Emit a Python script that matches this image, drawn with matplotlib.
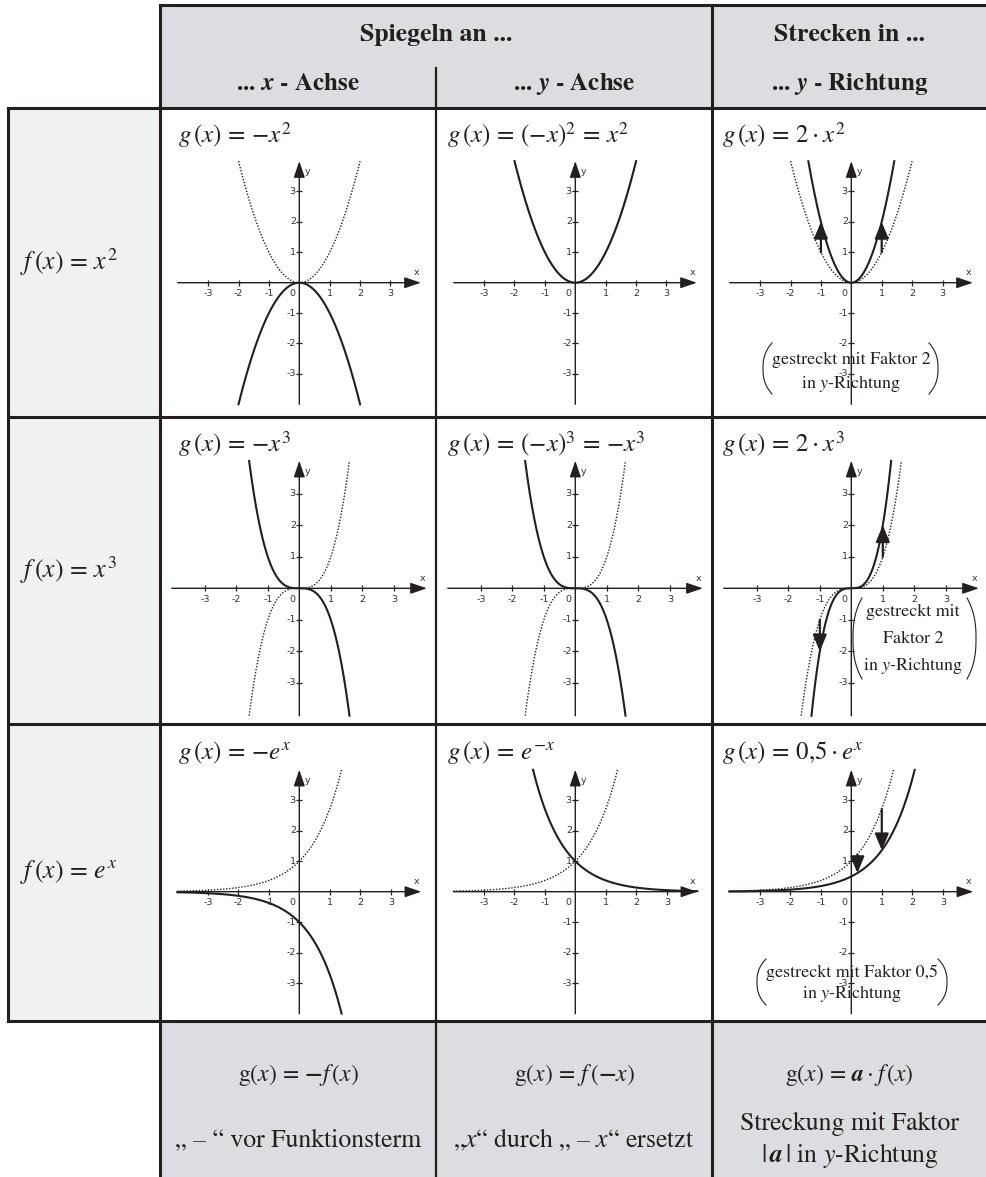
import numpy as np
import matplotlib.pyplot as plt
from matplotlib.patches import FancyArrowPatch, Rectangle

plt.rcParams['mathtext.fontset'] = 'stix'
plt.rcParams['font.family'] = 'STIXGeneral'

W, H = 987, 1177
INK = '#231f20'
HEAD_GRAY = '#dcdde0'
SIDE_GRAY = '#f0f1f3'

# table grid in pixels
col_x = [8, 160, 436, 712, 987]
row_y = [5, 108, 417, 724, 1021, 1177]
header_split_y = 68

# coordinate systems inside the body cells
origin_y = [282.7, 588.3, 891.7]
origin_dx = 139.3
unit = [30.4, 31.5, 30.5]
axis_end = [4.0, 4.05, 4.0]
ticks = [-3, -2, -1, 1, 2, 3]

base_funcs = [lambda x: x ** 2, lambda x: x ** 3, np.exp]
base_labels = [r'$f\,(x) \,=\, x^2$', r'$f\,(x) \,=\, x^3$', r'$f\,(x) \,=\, e^x$']
stretch_factor = [2, 2, 0.5]
stretch_arrow_x = [[-1, 1], [-1, 1], [0.2, 1]]

titles = [
    [r'$g\,(x) \,=\, {-}x^2$', r'$g\,(x) \,=\, ({-}x)^2 \,=\, x^2$', r'$g\,(x) \,=\, 2\cdot x^2$'],
    [r'$g\,(x) \,=\, {-}x^3$', r'$g\,(x) \,=\, ({-}x)^3 \,=\, {-}x^3$', r'$g\,(x) \,=\, 2\cdot x^3$'],
    [r'$g\,(x) \,=\, {-}e^x$', r'$g\,(x) \,=\, e^{-x}$', r'$g\,(x) \,=\, 0{,}5\cdot e^x$'],
]
title_dx = [18, 11, 10]

notes = [
    ['gestreckt mit Faktor 2', r'in $y$-Richtung'],
    ['gestreckt mit', 'Faktor 2', r'in $y$-Richtung'],
    ['gestreckt mit Faktor 0,5', r'in $y$-Richtung'],
]
# center x, first line y, line step, paren left, paren right, paren top, paren bottom
note_box = [
    (851, 360, 23, 763, 938, 343, 394),
    (913, 612, 27, 853, 976, 598, 679),
    (852, 973, 20, 757, 947, 959, 1005),
]

header_top = ['Spiegeln an ...', 'Strecken in ...']
header_sub = [r'... $\mathbfit{x}$ - Achse', r'... $\mathbfit{y}$ - Achse', r'... $\mathbfit{y}$ - Richtung']
rule_formula = [r'$\mathrm{g}(x) \,=\, \mathbf{-}f\,(x)$', r'$\mathrm{g}(x) \,=\, f\,(\mathbf{-}x)$',
                r'$\mathrm{g}(x) \,=\, \mathbfit{a}\cdot f\,(x)$']
rule_text = ['„ – “ vor Funktionsterm', '„$x$“ durch „ – $x$“ ersetzt']

fig = plt.figure(figsize=(W / 100, H / 100), dpi=100)
bg = fig.add_axes([0, 0, 1, 1])
bg.set_xlim(0, W)
bg.set_ylim(H, 0)
bg.axis('off')

# cell fills
bg.add_patch(Rectangle((col_x[1], row_y[0]), W - col_x[1], row_y[1] - row_y[0], color=HEAD_GRAY, lw=0))
bg.add_patch(Rectangle((col_x[0], row_y[1]), col_x[1] - col_x[0], row_y[4] - row_y[1], color=SIDE_GRAY, lw=0))
bg.add_patch(Rectangle((col_x[1], row_y[4]), W - col_x[1], H - row_y[4], color=HEAD_GRAY, lw=0))

# grid lines
lw_grid = 2.2
bg.plot([col_x[1], W], [row_y[0]] * 2, color=INK, lw=lw_grid, solid_capstyle='projecting')
for y in row_y[1:5]:
    bg.plot([col_x[0], W], [y, y], color=INK, lw=lw_grid, solid_capstyle='projecting')
bg.plot([col_x[0]] * 2, [row_y[1], row_y[4]], color=INK, lw=lw_grid, solid_capstyle='projecting')
bg.plot([col_x[1]] * 2, [row_y[0], H], color=INK, lw=lw_grid, solid_capstyle='projecting')
bg.plot([col_x[3]] * 2, [row_y[0], H], color=INK, lw=lw_grid, solid_capstyle='projecting')
bg.plot([col_x[2]] * 2, [header_split_y, H], color=INK, lw=1.6)

# header
bg.text((col_x[1] + col_x[3]) / 2, 35, header_top[0], ha='center', va='center', fontsize=18.5, fontweight='bold', color=INK)
bg.text((col_x[3] + W) / 2, 35, header_top[1], ha='center', va='center', fontsize=18.5, fontweight='bold', color=INK)
for c in range(3):
    bg.text((col_x[c + 1] + col_x[c + 2]) / 2, 84, header_sub[c], ha='center', va='center',
            fontsize=18, fontweight='bold', color=INK)

# left column labels
for r in range(3):
    bg.text(20, (row_y[r + 1] + row_y[r + 2]) / 2, base_labels[r], ha='left', va='center',
            fontsize=18.5, color=INK)

# bottom row
for c in range(3):
    cx = (col_x[c + 1] + col_x[c + 2]) / 2
    bg.text(cx, 1075, rule_formula[c], ha='center', va='center', fontsize=17, color=INK)
for c in range(2):
    cx = (col_x[c + 1] + col_x[c + 2]) / 2
    bg.text(cx, 1140, rule_text[c], ha='center', va='center', fontsize=18.5, color=INK)
bg.text(849.5, 1124, 'Streckung mit Faktor', ha='center', va='center', fontsize=18.5, color=INK)
bg.text(849.5, 1156, r'|$\,\mathbfit{a}\,$| in $y$-Richtung', ha='center', va='center',
        fontsize=18.5, color=INK)


def clipped(ax, fn, R, **kw):
    x = np.linspace(-R, R, 4000)
    y = fn(x)
    y = np.where(np.abs(y) <= R, y, np.nan)
    ax.plot(x, y, **kw)


L = 4.6
tick_font = dict(fontsize=6.8, family='DejaVu Sans', color='#333333')
for r in range(3):
    f = base_funcs[r]
    k = stretch_factor[r]
    u = unit[r]
    R = axis_end[r]
    oy = origin_y[r]
    partners = [lambda x, f=f: -f(x), lambda x, f=f: f(-x), lambda x, f=f, k=k: k * f(x)]
    for c in range(3):
        ox = col_x[c + 1] + origin_dx
        ax = fig.add_axes([(ox - L * u) / W, 1 - (oy + L * u) / H, 2 * L * u / W, 2 * L * u / H])
        ax.set_xlim(-L, L)
        ax.set_ylim(-L, L)
        ax.axis('off')
        ax.patch.set_visible(False)

        for a, b in (((-R, 0), (R, 0)), ((0, -R), (0, R))):
            ax.add_patch(FancyArrowPatch(a, b, arrowstyle='-|>,head_length=1.0,head_width=0.34',
                                         mutation_scale=10, lw=1.0, color=INK, shrinkA=0, shrinkB=0))
        ax.plot(ticks, [0] * len(ticks), ls='none', marker='|', ms=4.5, mew=0.9, color=INK)
        ax.plot([0] * len(ticks), ticks, ls='none', marker='_', ms=4.5, mew=0.9, color=INK)
        for t in ticks:
            ax.annotate(str(t), (t, 0), xytext=(0, -4.5), textcoords='offset points', ha='center', va='top',
                        **tick_font)
            ax.annotate(str(t), (0, t), xytext=(-2.5, 0), textcoords='offset points', ha='right', va='center',
                        **tick_font)
        ax.annotate('0', (0, 0), xytext=(-5, -4.5), textcoords='offset points', ha='center', va='top', **tick_font)
        ax.annotate('x', (R - 0.15, 0), xytext=(0, 4), textcoords='offset points', ha='center', va='bottom',
                    **tick_font)
        ax.annotate('y', (0, R - 0.35), xytext=(4, 0), textcoords='offset points', ha='left', va='center',
                    **tick_font)

        clipped(ax, f, R, color=INK, lw=1.0, ls=(0, (1, 1.2)))
        clipped(ax, partners[c], R, color=INK, lw=1.5)

        if c == 2:
            for x0 in stretch_arrow_x[r]:
                ax.add_patch(FancyArrowPatch((x0, f(x0)), (x0, k * f(x0)),
                                             arrowstyle='-|>,head_length=1.0,head_width=0.42',
                                             mutation_scale=10, lw=1.6, color=INK, shrinkA=0, shrinkB=0))

        bg.text(col_x[c + 1] + title_dx[c], row_y[r + 1] + 35, titles[r][c], ha='left', va='baseline',
                fontsize=18, color=INK)

# bracketed notes in the stretch column
for r in range(3):
    cx, y0, step, xl, xr, yt, yb = note_box[r]
    for i, line in enumerate(notes[r]):
        bg.text(cx, y0 + i * step, line, ha='center', va='center', fontsize=13, color=INK, zorder=5)
    s = np.linspace(-1, 1, 100)
    yy = (yt + yb) / 2 + s * (yb - yt) / 2
    bulge = 9
    bg.plot(xl + bulge * np.abs(s) ** 2.5, yy, color=INK, lw=0.8, zorder=5)
    bg.plot(xr - bulge * np.abs(s) ** 2.5, yy, color=INK, lw=0.8, zorder=5)

fig.savefig('out.png', dpi=100)
